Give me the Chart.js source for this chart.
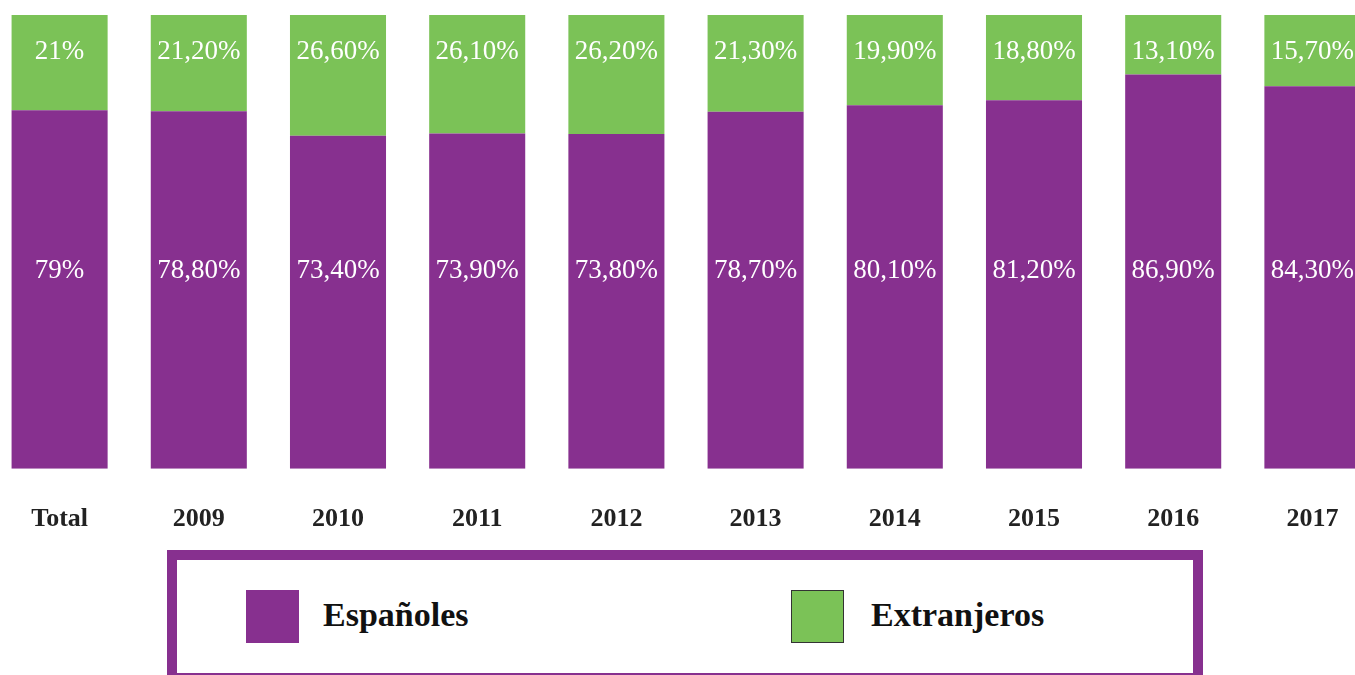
<!DOCTYPE html>
<html>
<head>
<meta charset="utf-8">
<script src="https://cdn.jsdelivr.net/npm/chart.js@4.4.0/dist/chart.umd.min.js"></script>
<style>
  html, body { margin: 0; padding: 0; background: #fff; overflow: hidden; }
  body { width: 1355px; height: 675px; position: relative; }
  #wrap { position: absolute; left: -9.6px; top: 0; width: 1392px; height: 580px; }
  #legend {
    position: absolute; left: 167px; top: 550px; width: 1036px; height: 133px;
    box-sizing: border-box; border: 10px solid #87308f; background: #fff;
  }
  .item { position: absolute; top: 30px; height: 53px; }
  .box { position: absolute; left: 0; top: 0; width: 53px; height: 53px; box-sizing: border-box; }
  .txt { position: absolute; left: 77px; top: 5px; white-space: nowrap;
         font: bold 34px "Liberation Serif", serif; color: #111; line-height: 40px; }
</style>
</head>
<body>
<div id="wrap"><canvas id="chart"></canvas></div>
<div id="legend"></div>
<script>
// categories and series
const categories = ["Total", "2009", "2010", "2011", "2012", "2013", "2014", "2015", "2016", "2017"];
const espanoles = [79, 78.8, 73.4, 73.9, 73.8, 78.7, 80.1, 81.2, 86.9, 84.3];
const extranjeros = [21, 21.2, 26.6, 26.1, 26.2, 21.3, 19.9, 18.8, 13.1, 15.7];
const seriesNames = ["Españoles", "Extranjeros"];
const seriesColors = ["#87308f", "#7bc257"];

function fmt(v, i) {
  // first column shows whole numbers, the rest two decimals with comma
  if (i === 0) return v.toFixed(0) + "%";
  return v.toFixed(2).replace(".", ",") + "%";
}

// labels drawn at a fixed height inside each segment
const barLabels = {
  id: "barLabels",
  afterDatasetsDraw(chart, args, opts) {
    const ctx = chart.ctx;
    const y = chart.scales.y;
    ctx.save();
    ctx.fillStyle = "#fff";
    ctx.font = "27px 'Liberation Serif', serif";
    ctx.textAlign = "center";
    ctx.textBaseline = "middle";
    chart.data.datasets.forEach((ds, d) => {
      const meta = chart.getDatasetMeta(d);
      meta.data.forEach((bar, i) => {
        ctx.fillText(fmt(ds.data[i], i), bar.x, y.getPixelForValue(opts.at[d]));
      });
    });
    ctx.restore();
  }
};

const chart = new Chart("chart", {
  type: "bar",
  data: {
    labels: categories,
    datasets: [
      { label: seriesNames[0], data: espanoles, backgroundColor: seriesColors[0] },
      { label: seriesNames[1], data: extranjeros, backgroundColor: seriesColors[1] },
    ],
  },
  options: {
    responsive: true,
    maintainAspectRatio: false,
    animation: false,
    layout: { padding: { top: 15, bottom: 10, left: 0, right: 0 } },
    datasets: { bar: { barPercentage: 0.69, categoryPercentage: 1 } },
    plugins: {
      legend: { display: false },
      tooltip: { enabled: false },
      barLabels: { at: [43.5, 91.8] },
    },
    scales: {
      x: {
        stacked: true,
        grid: { display: false, drawTicks: false },
        border: { display: false },
        ticks: { padding: 35, color: "#222", font: { family: "'Liberation Serif', serif", size: 26, weight: "bold" } },
      },
      y: { stacked: true, display: false, min: 0, max: 100 },
    },
  },
  plugins: [barLabels],
});

// legend built from the datasets
const legend = document.getElementById("legend");
const itemLeft = [69, 614];
chart.data.datasets.forEach((ds, i) => {
  const item = document.createElement("div");
  item.className = "item";
  item.style.left = itemLeft[i] + "px";
  const box = document.createElement("div");
  box.className = "box";
  box.style.background = ds.backgroundColor;
  if (i === 1) box.style.border = "1px solid #333";
  const txt = document.createElement("div");
  txt.className = "txt";
  txt.style.left = (i === 0 ? 77 : 80) + "px";
  txt.textContent = ds.label;
  item.appendChild(box);
  item.appendChild(txt);
  legend.appendChild(item);
});
</script>
</body>
</html>
